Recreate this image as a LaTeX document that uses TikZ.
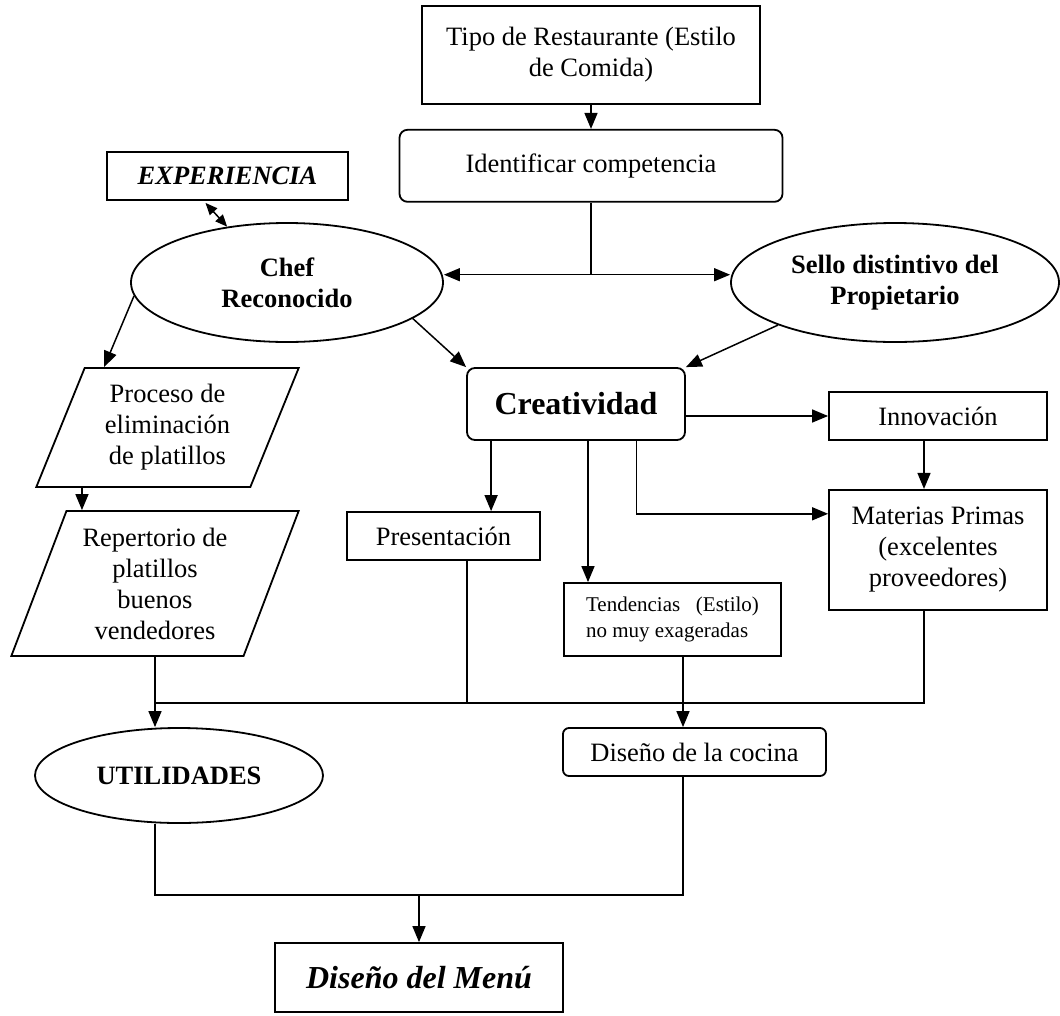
\documentclass[tikz,border=0pt]{standalone}
\usepackage{fontspec}
\setmainfont{Liberation Serif}
\usetikzlibrary{positioning}
\usetikzlibrary{shapes.geometric}
\usetikzlibrary{arrows.meta}
\usetikzlibrary{calc}
\newcommand\diagfont{\fontsize{26.5}{31}\selectfont}
\newcommand\diagsmall{\fontsize{21}{26}\selectfont}
\newcommand\diaglarge{\fontsize{32}{38}\selectfont}

\begin{document}
\begin{tikzpicture}[x=1pt, y=1pt, line width=1.5pt,
            every node/.style={font=\diagfont, align=center, inner sep=0pt},
            box/.style={draw, rectangle, line width=1.8pt},
            rbox/.style={box, rounded corners=8pt},
            oval/.style={draw, ellipse, line width=1.8pt, font=\diagfont\bfseries},
            slant/.style={draw, trapezium, trapezium stretches, line width=1.8pt},
            arr/.style={-{Triangle[length=16pt, width=13pt]}}]
            \useasboundingbox (0,0) rectangle (1060,-1015);

            \node [box, minimum width=338, minimum height=98] (tipo) at (591,-55) {Tipo de Restaurante (Estilo\\de Comida)};
            \node [rbox, minimum width=383, minimum height=72, below=24pt of tipo] (ident) {Identificar competencia};
            \node [box, minimum width=241, minimum height=48] (exp) at (227.5,-176) {\bfseries\itshape EXPERIENCIA};
            \node [oval, minimum width=312, minimum height=119] (chef) at (287,-282.5) {Chef\\Reconocido};
            \node [oval, minimum width=328, minimum height=119] (sello) at (895,-282.5) {Sello distintivo del\\Propietario};
            \node [rbox, minimum width=218, minimum height=72, font=\diaglarge\bfseries] (creat) at (576,-404) {Creatividad};
            \node [box, minimum width=218, minimum height=48] (innov) at (938,-416) {Innovación};
            \node [box, minimum width=218, minimum height=120, below=48pt of innov] (mat) {Materias Primas\\(excelentes\\proveedores)};
            \node [box, minimum width=193, minimum height=48] (pres) at (443.5,-536) {Presentación};
            \node [box, minimum width=217, minimum height=73, font=\diagsmall, align=left] (tend) at (672.5,-619.5) {Tendencias\ \ \ (Estilo)\\no muy exageradas};
            \node [slant, trapezium left angle=67, trapezium right angle=113, minimum width=263, minimum height=119]
                (proc) at (167.5,-427.5)
                {Proceso de\\eliminación\\de platillos};
            \node [slant, trapezium left angle=68, trapezium right angle=112, minimum width=288, minimum height=145]
                (rep) at (155,-583.5)
                {Repertorio de\\platillos\\buenos\\vendedores};
            \node [oval, minimum width=288, minimum height=95] (util) at (179,-775.5) {UTILIDADES};
            \node [rbox, rounded corners=6pt, minimum width=263, minimum height=48] (cocina) at (694.5,-752) {Diseño de la cocina};
            \node [box, minimum width=288, minimum height=69, font=\diaglarge\bfseries\itshape] (menu) at (419,-977.5) {Diseño del Menú};

            \coordinate (split) at ($(ident.south)+(0,-72)$);
            \coordinate (bus) at (155,-703);
            \coordinate (join) at ($(menu.north)+(0,47)$);
            \coordinate (c1) at ($(creat.south west)+(25,0)$);
            \coordinate (c2) at ($(creat.south)+(12,0)$);
            \coordinate (c3) at ($(creat.south)+(60.5,0)$);
            \coordinate (c4) at ($(innov.south)+(-14,0)$);
            \coordinate (c5) at ($(pres.south)+(23.5,0)$);
            \coordinate (c6) at ($(tend.south)+(10.5,0)$);
            \coordinate (c7) at ($(mat.south)+(-14,0)$);
            \coordinate (c8) at ($(proc.bottom left corner)+(47,0)$);

            \draw [arr] (tipo.south) -- (ident.north);
            \draw (ident.south) -- (split);
            \draw [arr] (split) -- (chef.east |- split);
            \draw [arr] (split) -- (sello.west |- split);
            \draw [{Triangle[length=12pt, width=10pt]}-{Triangle[length=12pt, width=10pt]}] ($(exp.south)+(-22,-2)$) -- (chef.137);
            \draw [arr] (chef.185) -- ($(proc.top left corner)+(20,0)$);
            \draw [arr] (chef.-16) -- (creat.north west);
            \draw [arr] (sello.200) -- (creat.north east);
            \draw [arr] (creat.east |- innov.west) -- (innov.west);
            \draw [arr] (c1) -- (c1 |- pres.north);
            \draw [arr] (c2) -- (c2 |- tend.north);
            \draw [arr] (c3) |- ($(mat.west)+(0,36)$);
            \draw [arr] (c4) -- (c4 |- mat.north);
            \draw [arr] (c8) -- (c8 |- rep.north);
            \draw (c5) -- (c5 |- bus);
            \draw (c7) -- (c7 |- bus) -- (bus);
            \draw [arr] (c6) -- (c6 |- cocina.north);
            \draw [arr] (bus |- rep.south) -- (bus |- util.north);
            \draw (bus |- util.south) |- (join);
            \draw (c6 |- cocina.south) |- (join);
            \draw [arr] (join) -- (menu.north);
        \end{tikzpicture}
\end{document}
